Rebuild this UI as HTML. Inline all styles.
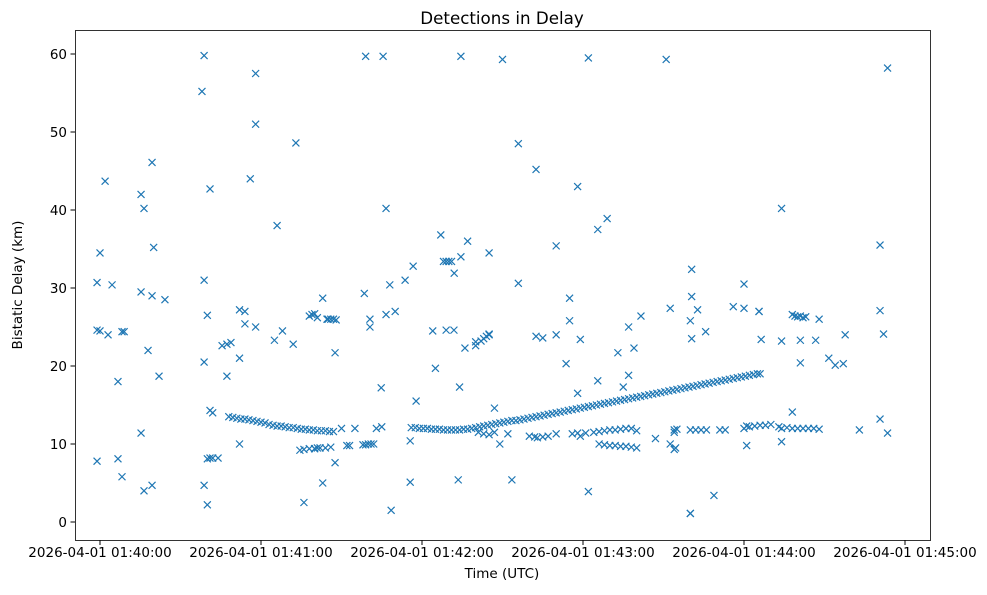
<!DOCTYPE html>
<html><head><meta charset="utf-8"><style>
body{margin:0;background:#fff;}
svg text{font-family:"DejaVu Sans","Liberation Sans",sans-serif;fill:#000;}
</style></head><body>
<svg id="chart" width="987" height="590" xmlns="http://www.w3.org/2000/svg">
<rect width="987" height="590" fill="#fff"/>
<text x="502" y="24" font-size="16.7" text-anchor="middle">Detections in Delay</text>
<text x="502" y="578" font-size="13.5" text-anchor="middle">Time (UTC)</text>
<text transform="translate(22,285) rotate(-90)" font-size="13.5" text-anchor="middle">Bistatic Delay (km)</text>
<g id="marks"></g>
<g id="axes"></g>
<rect x="75.5" y="30.5" width="855" height="510" fill="none" stroke="#000" stroke-width="0.8"/>
</svg>
<script>
// seconds after 2026-04-01 01:40:00, bistatic delay in km
const scatterTimes = [-1.1,-1.1,-1.1,0,0,1.9,3,4.5,6.7,6.7,8.2,8.2,9,15.3,15.3,15.3,16.4,16.4,17.9,19.4,19.4,19.4,20,22,24.2,
38,38.8,38.8,38.8,38.8,40,40,40,41,41,41,42,42,44,45.5,47.3,47.3,48.8,52,52,52,54,54,56,58,58,58,65,66,68,72,73,74.5,76,78,80,81,83,83,84.6,87.6,87.6,
98.5,99,100.6,100.6,104.8,105.5,106.6,106.6,108,108.5,110,113.7,115.6,115.6,116.7,117.8,124,125,127,129,131.9,132,133.5,134,134.5,134.5,136,137,140,140,145,145,147,149,150,153.5,155.9,155.9,
162.5,162.5,165,170,170,173.7,175,175,178,178,179,179,182,182,185.5,185.5,189,193,195,197,197,199,201.6,207,211,212.5,212.5,214,220,220,220,220.5,220.5,220.5,222.7,225.7,228.8,236,240,240,241,245.6,245.6,246.4,
253,254,254,254,258,258,261,261,261,263,266.7,268,271.6,274,277,277.7,283,290.7,290.7,290.7,292,293.5,293.5];
const scatterDelays = [7.8,30.7,24.6,34.5,24.5,43.7,24,30.4,18,8.1,5.8,24.4,24.4,42,29.5,11.4,40.2,4,22,46.1,4.7,29,35.2,18.7,28.5,
55.2,59.8,31,20.5,4.7,8.1,2.2,26.5,42.7,14.3,8.2,14,8.2,8.2,22.6,18.7,22.8,23,27.2,10,21,27,25.4,44,51,57.5,25,23.3,38,24.5,22.8,48.6,9.2,2.5,9.4,9.4,9.5,28.7,5,26,21.7,7.6,
29.3,59.7,25,26,17.2,59.7,40.2,26.6,30.4,1.5,27,31,10.4,5.1,32.8,15.5,24.5,19.7,36.8,24.6,24.6,31.9,5.4,17.3,34,59.7,22.3,36,22.6,23.1,24,34.5,14.6,10,59.3,5.4,48.5,30.6,23.8,
45.2,23.6,35.4,24,20.3,25.8,28.7,16.5,43,11,23.4,3.9,59.5,18.1,37.5,38.9,21.7,17.3,18.8,25,22.3,26.4,10.7,59.3,27.4,10,11.5,1.1,1.1,25.8,23.5,32.4,28.9,27.2,24.4,3.4,27.6,27.4,30.5,9.8,27,27,23.4,12.2,
23.2,40.2,10.3,26.6,14.1,26.4,23.3,20.4,26.3,23.3,26,21,20.1,20.3,24,11.8,13.2,35.5,27.1,24.1,11.4,58.2,43.6];
const trackTimes = [48,49.5,51,52.5,54,55.5,57,58.5,60,61.5,63,64.5,66,67.5,69,70.5,72,73.5,75,76.5,78,79.5,81,82.5,84,85.5,87,
116,117.5,119,120.5,122,123.5,125,126.5,128,129.5,131,132.5,134,135.5,137,138.5,140,141.5,143,144.5,146,147.5,149,150.5,152,153.5,155,156.5,158,159.5,161,162.5,164,165.5,167,168.5,170,171.5,173,174.5,176,177.5,179,180.5,182,183.5,185,186.5,188,189.5,191,192.5,194,195.5,197,198.5,200,201.5,203,204.5,206,207.5,209,210.5,212,213.5,215,216.5,218,219.5,221,222.5,224,225.5,227,228.5,230,231.5,233,234.5,236,237.5,239,240.5,242,243.5,245,246];
const trackDelays = [13.5,13.4,13.3,13.2,13.2,13.1,13,12.9,12.8,12.7,12.5,12.4,12.3,12.3,12.2,12.1,12.1,12,11.9,11.9,11.8,11.8,11.7,11.7,11.7,11.6,11.6,
12.1,12.1,12,12,12,11.9,11.9,11.9,11.8,11.8,11.8,11.8,11.8,11.9,11.9,12,12.1,12.2,12.3,12.4,12.5,12.6,12.7,12.8,12.9,13,13,13.1,13.2,13.3,13.4,13.5,13.6,13.7,13.8,13.9,14,14.1,14.2,14.3,14.4,14.5,14.6,14.7,14.8,14.9,15,15.1,15.2,15.3,15.4,15.5,15.6,15.7,15.8,15.9,16,16.1,16.2,16.3,16.4,16.5,16.6,16.7,16.8,16.9,17,17.1,17.2,17.3,17.4,17.5,17.6,17.7,17.8,17.9,18,18.1,18.2,18.3,18.4,18.5,18.6,18.7,18.8,18.9,19,19];
const bandTimes = [76,80,82,84,86,92,93,98,99,100,101,102,90,95,103,105,78,79,80,81,85,86,87,88,
128,129,130,131,142,143,144,145,141,143,145,147,152,160,162,163,165,167,170,
176,178,181,184,186,188,190,192,194,196,198,200,186,188,190,192,194,196,198,200,
214,215,220,222,224,226,231,233,214,214.5,240,241,242,244,246,248,250,254,256,258,260,262,264,266,268,259,260,262];
const bandDelays = [9.3,9.4,9.5,9.5,9.6,9.8,9.8,9.9,9.9,10,10,10,12,12,12,12.2,26.4,26.6,26.7,26.2,26,26,26,25.9,
33.4,33.4,33.4,33.4,23.2,23.5,23.8,24.1,11.5,11.3,11.2,11.5,11.3,11,10.9,10.8,10.9,11,11.3,
11.3,11.4,11.4,11.5,11.6,11.7,11.8,11.8,11.9,12,12,11.7,10,9.9,9.8,9.8,9.7,9.7,9.6,9.5,
11.8,11.9,11.8,11.8,11.8,11.8,11.8,11.8,9.3,9.5,12,12.3,12.2,12.3,12.4,12.4,12.5,12,12.1,12,12,12,12,12,11.9,26.4,26.3,26.2];
const yTicks = [0,10,20,30,40,50,60];
const xTicks = [0,60,120,180,240,300];
const xTickLabels = ["2026-04-01 01:40:00","2026-04-01 01:41:00","2026-04-01 01:42:00","2026-04-01 01:43:00","2026-04-01 01:44:00","2026-04-01 01:45:00"];

const NS="http://www.w3.org/2000/svg";
function xs(t){return 100 + t*161/60;}
function ys(v){return 522 - v*7.8;}
const marks=document.getElementById('marks');
function addSeries(T,D,name){
  for(let i=0;i<T.length;i++){
    const x=xs(T[i]), y=ys(D[i]);
    const p=document.createElementNS(NS,'path');
    p.setAttribute('d',`M${x-3.5},${y-3.5}L${x+3.5},${y+3.5}M${x-3.5},${y+3.5}L${x+3.5},${y-3.5}`);
    p.setAttribute('stroke','#1f77b4');p.setAttribute('stroke-width','1.2');
    
    
    marks.appendChild(p);
  }
}
addSeries(scatterTimes,scatterDelays,'detection-point');
addSeries(trackTimes,trackDelays,'track-point');
addSeries(bandTimes,bandDelays,'band-point');
const axes=document.getElementById('axes');
yTicks.forEach(v=>{
  const y=ys(v);
  const l=document.createElementNS(NS,'line');
  l.setAttribute('x1',70.5);l.setAttribute('x2',75);l.setAttribute('y1',y);l.setAttribute('y2',y);l.setAttribute('stroke','#000');
  
  
  axes.appendChild(l);
  const t=document.createElementNS(NS,'text');
  t.setAttribute('x',67);t.setAttribute('y',y+5);t.setAttribute('font-size','13.5');t.setAttribute('text-anchor','end');
  t.textContent=v;
  
  
  axes.appendChild(t);
});
xTicks.forEach((s,i)=>{
  const x=xs(s);
  const l=document.createElementNS(NS,'line');
  l.setAttribute('x1',x);l.setAttribute('x2',x);l.setAttribute('y1',540);l.setAttribute('y2',545);l.setAttribute('stroke','#000');
  
  
  axes.appendChild(l);
  const t=document.createElementNS(NS,'text');
  t.setAttribute('x',x);t.setAttribute('y',557);t.setAttribute('font-size','13.5');t.setAttribute('text-anchor','middle');
  t.textContent=xTickLabels[i];
  
  
  axes.appendChild(t);
});
</script>
</body></html>
